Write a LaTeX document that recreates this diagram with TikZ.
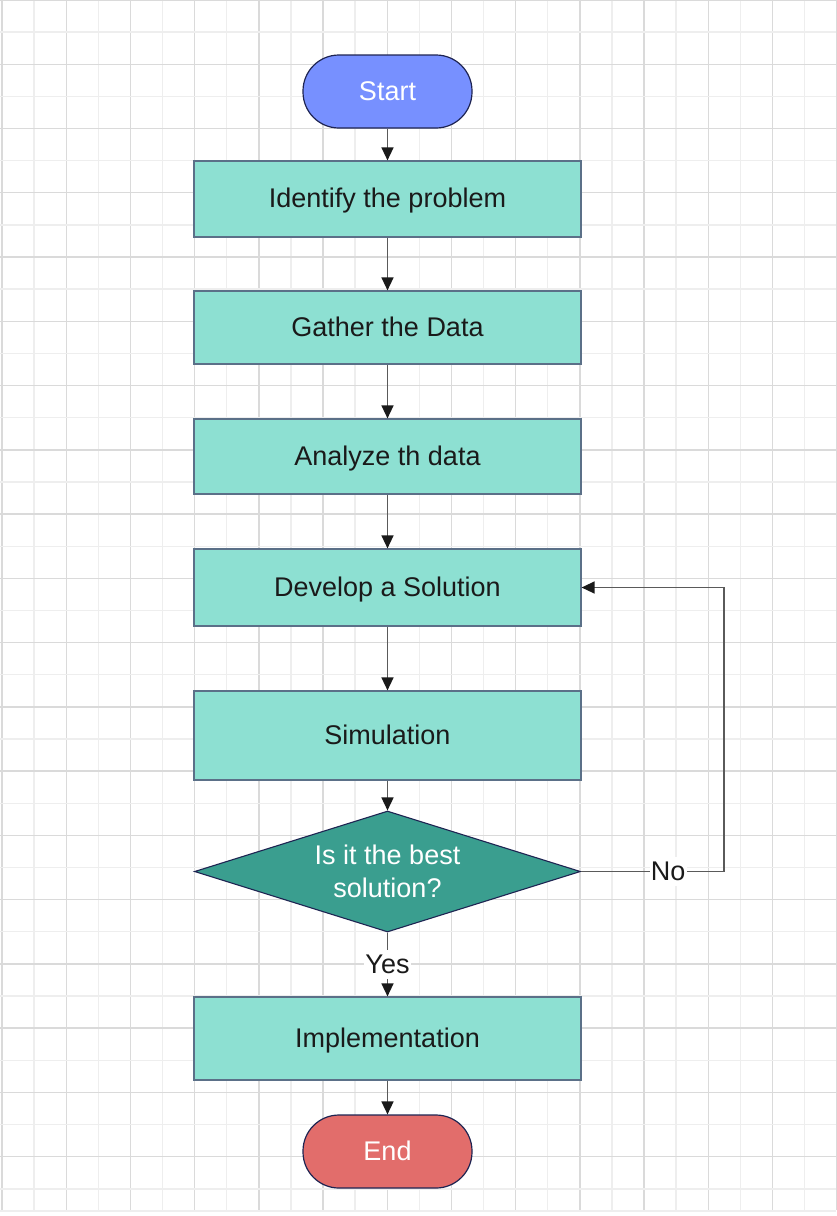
\documentclass[tikz,border=0pt]{standalone}
\usepackage{fontspec}
\setmainfont{Liberation Sans}
\usetikzlibrary{arrows.meta,shapes.geometric}
\definecolor{gridD}{HTML}{DADADA}
\definecolor{gridL}{HTML}{EEEEEE}
\definecolor{boxfill}{HTML}{8DE0D2}
\definecolor{boxline}{HTML}{5B7088}
\definecolor{startfill}{HTML}{7790FF}
\definecolor{endfill}{HTML}{E26D6B}
\definecolor{decfill}{HTML}{3A9E8F}
\definecolor{termline}{HTML}{1E2452}
\definecolor{arrowline}{HTML}{5A5A5A}
\definecolor{txt}{HTML}{1A1A1A}
\tikzset{
  lbl/.style={font=\fontsize{27}{33}\selectfont},
  onelbl/.style={lbl, text height=22pt, text depth=4.5pt},
  procbox/.style={onelbl, draw=boxline, line width=1.2pt, fill=boxfill, minimum width=387pt, inner sep=0pt, text=txt},
  terminal/.style={onelbl, draw=termline, line width=1.2pt, rounded corners=36pt, minimum width=169pt, minimum height=73pt, inner sep=0pt, text=white},
  decision/.style={lbl, diamond, draw=termline, line width=1.1pt, fill=decfill, minimum width=386pt, minimum height=121pt, aspect=3.19, inner sep=0pt, text=white, align=center},
  flow/.style={draw=arrowline, line width=1.5pt, -{Triangle[length=13pt,width=12pt,color=txt]}},
  edgelabel/.style={onelbl, fill=white, inner sep=1pt, text=txt},
  gridD/.style={draw=gridD, line width=1.4pt},
  gridL/.style={draw=gridL, line width=1.4pt}
}
\begin{document}
\begin{tikzpicture}[x=1pt,y=-1pt]
\useasboundingbox (0,0) rectangle (836,1216);
\fill[white] (0,0) rectangle (836,1216);
% grid
\foreach \k in {0,...,26}{
  \pgfmathsetmacro{\xx}{2+\k*32.1}
  \pgfmathtruncatemacro{\ev}{mod(\k,2)}
  \ifnum\ev=0 \draw[gridD] (\xx,0) -- (\xx,1210); \else \draw[gridL] (\xx,0) -- (\xx,1210); \fi
}
\foreach \k in {0,...,37}{
  \pgfmathsetmacro{\yy}{\k*32.13}
  \pgfmathtruncatemacro{\ev}{mod(\k,2)}
  \ifnum\ev=0 \draw[gridD] (0,\yy) -- (836,\yy); \else \draw[gridL] (0,\yy) -- (836,\yy); \fi
}
\draw[draw=gridL, line width=1.5pt] (0,1211) -- (836,1211);
% nodes
\node[terminal, fill=startfill] (start) at (387.5,91.5) {Start};
\node[procbox, minimum height=76pt] (ident) at (387.5,199) {Identify the problem};
\node[procbox, minimum height=73pt] (gather) at (387.5,327.5) {Gather the Data};
\node[procbox, minimum height=75pt] (analyze) at (387.5,456.5) {Analyze th data};
\node[procbox, minimum height=77pt] (develop) at (387.5,587.5) {Develop a Solution};
\node[procbox, minimum height=89pt] (sim) at (387.5,735.5) {Simulation};
\node[decision] (dec) at (387.5,871.5) {Is it the best\\solution?};
\node[procbox, minimum height=83pt] (impl) at (387.5,1038.5) {Implementation};
\node[terminal, fill=endfill] (end) at (387.5,1151.5) {End};
\coordinate (c1) at (724,871.5);
% connectors
\draw[flow] (start) -- (ident);
\draw[flow] (ident) -- (gather);
\draw[flow] (gather) -- (analyze);
\draw[flow] (analyze) -- (develop);
\draw[flow] (develop) -- (sim);
\draw[flow] (sim) -- (dec);
\draw[flow] (dec.south) -- node[edgelabel] {Yes} (impl.north);
\draw[flow] (dec.east) -- node[edgelabel, pos=0.61] {No} (c1) |- (develop.east);
\draw[flow] (impl) -- (end);
\end{tikzpicture}
\end{document}
